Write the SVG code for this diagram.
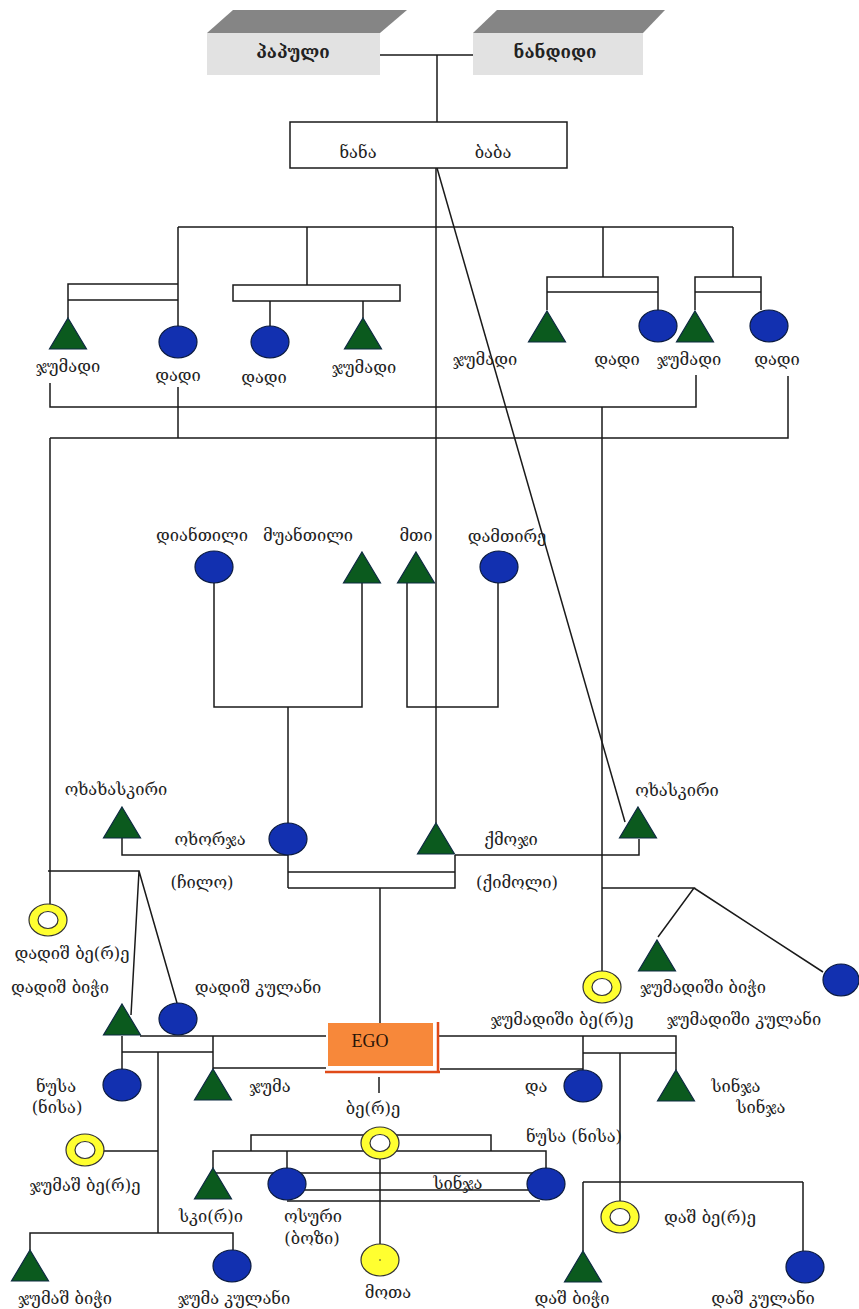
<svg xmlns="http://www.w3.org/2000/svg" width="859" height="1309" viewBox="0 0 859 1309">
<style>
.ln{stroke:#1a1a1a;stroke-width:1.5;fill:none}
.tri{fill:#0b5a1e;stroke:#0d2a40;stroke-width:1.2}
.cir{fill:#1230b0;stroke:#0a1a40;stroke-width:1.2}
.ring{fill:#ffff30;stroke:#333;stroke-width:1.2}
.hole{fill:#ffffff;stroke:#333;stroke-width:1.2}
.t{font-family:"DejaVu Serif","DejaVu Sans",serif;font-size:16.5px;fill:#222;text-anchor:middle}
.tb{font-family:"DejaVu Serif","DejaVu Sans",serif;font-size:17px;font-weight:bold;fill:#222;text-anchor:middle}
.top{fill:#858585}
.front{fill:#e2e2e2}
</style>
<defs>
<path id="trishape" d="M0,0 L18.5,31 L-18.5,31 Z"/>
</defs>
<rect width="859" height="1309" fill="#ffffff"/>
<g id="connectors">
<path class="ln" d="M380,55 H473 M437,55 V122"/>
<path class="ln" d="M436,168 V823"/>
<path class="ln" d="M437,168 L625,822"/>
<path class="ln" d="M178,227 H733 M178,227 V326"/>
<path class="ln" d="M68,318 V284 H178 M68,300 H178"/>
<path class="ln" d="M307,227 V285 M233,285 H400 V301 H233 Z M270,301 V326 M363,301 V318"/>
<path class="ln" d="M603,227 V277 M547,310 V277 H658 V310 M547,292 H658"/>
<path class="ln" d="M733,227 V277 M695,310 V277 H761 V310 M695,292 H761"/>
<path class="ln" d="M50,383 V407 H696 V375"/>
<path class="ln" d="M178,387 V438 M50,438 H788 V376 M50,438 V904"/>
<path class="ln" d="M602,407 V971 M602,888 H694 L658,937 M694,888 L823,972"/>
<path class="ln" d="M214,583 V707 H362 V583 M288,707 V823"/>
<path class="ln" d="M407,583 V707 H498 V583"/>
<path class="ln" d="M122,838 V855 H288 M288,855 V888 M288,872 H455 M288,888 H455 V855 M455,855 H639 V839"/>
<path class="ln" d="M380,888 V1023"/>
<path class="ln" d="M48,871 H139 L131,1015 M139,871 L177,1003"/>
<path class="ln" d="M140,1036 H326 M122,1036 V1069 M122,1052 H213 M213,1036 V1069 M213,1068 H326"/>
<path class="ln" d="M158,1052 V1233 M30,1250 V1233 H233 V1250 M103,1151 H158"/>
<path class="ln" d="M438,1036 H676 V1070 M583,1036 V1070 M583,1053 H676 M620,1053 V1201 M440,1069 H583"/>
<path class="ln" d="M583,1182 H803 M583,1182 V1251 M803,1182 V1251"/>
<path class="ln" d="M379,1077 V1093"/>
<path class="ln" d="M251,1151 V1135 H491 V1151 M213,1168 V1151 H546 V1168 M287,1151 V1168 M213,1173 H546 M305,1190 H528 M287,1201 H540"/>
<path class="ln" d="M380,1152 V1244"/>
</g>
<g id="papuli">
<polygon class="top" points="207,33 380,33 407,10 233,10"/>
<rect class="front" x="207" y="33" width="173" height="42"/>
<text class="tb" x="293" y="58">პაპული</text>
</g>
<g id="nandidi">
<polygon class="top" points="473,33 643,33 665,10 497,10"/>
<rect class="front" x="473" y="33" width="170" height="42"/>
<text class="tb" x="555" y="58">ნანდიდი</text>
</g>
<g id="nana-baba">
<rect x="290" y="122" width="277" height="46" fill="#fff" stroke="#1a1a1a" stroke-width="1.5"/>
<text class="t" x="358" y="158">ნანა</text>
<text class="t" x="493" y="158">ბაბა</text>
</g>
<g id="n-jumadi1"><use href="#trishape" class="tri" x="68" y="318"/><text class="t" x="68" y="372">ჯუმადი</text></g>
<g id="n-dadi1"><ellipse class="cir" cx="178" cy="342" rx="19" ry="16"/><text class="t" x="178" y="381">დადი</text></g>
<g id="n-dadi2"><ellipse class="cir" cx="270" cy="342" rx="19" ry="16"/><text class="t" x="264" y="383">დადი</text></g>
<g id="n-jumadi2"><use href="#trishape" class="tri" x="363" y="318"/><text class="t" x="364" y="373">ჯუმადი</text></g>
<g id="n-jumadi3"><use href="#trishape" class="tri" x="547" y="311"/><text class="t" x="485" y="365">ჯუმადი</text></g>
<g id="n-dadi3"><ellipse class="cir" cx="658" cy="326" rx="19" ry="16"/><text class="t" x="617" y="365">დადი</text></g>
<g id="n-jumadi4"><use href="#trishape" class="tri" x="695" y="311"/><text class="t" x="689" y="365">ჯუმადი</text></g>
<g id="n-dadi4"><ellipse class="cir" cx="769" cy="326" rx="19" ry="16"/><text class="t" x="777" y="365">დადი</text></g>
<g id="n-diantili"><ellipse class="cir" cx="214" cy="567" rx="19" ry="16"/><text class="t" x="202" y="541">დიანთილი</text></g>
<g id="n-muantili"><use href="#trishape" class="tri" x="362" y="552"/><text class="t" x="308" y="541">მუანთილი</text></g>
<g id="n-mti"><use href="#trishape" class="tri" x="416" y="552"/><text class="t" x="416" y="541">მთი</text></g>
<g id="n-damtire"><ellipse class="cir" cx="499" cy="567" rx="19" ry="16"/><text class="t" x="507" y="542">დამთირე</text></g>
<g id="n-oxaxaskiri"><use href="#trishape" class="tri" x="122" y="807"/><text class="t" x="116" y="795">ოხახასკირი</text></g>
<g id="n-oxorja"><ellipse class="cir" cx="288" cy="839" rx="19" ry="16"/><text class="t" x="210" y="845">ოხორჯა</text><text class="t" x="202" y="888">(ჩილო)</text></g>
<g id="n-kmoji"><use href="#trishape" class="tri" x="436" y="823"/><text class="t" x="511" y="845">ქმოჯი</text><text class="t" x="517" y="888">(ქიმოლი)</text></g>
<g id="n-oxaskiri"><use href="#trishape" class="tri" x="638" y="807"/><text class="t" x="677" y="796">ოხასკირი</text></g>
<g id="n-dadish-bere"><ellipse class="ring" cx="48" cy="920" rx="19" ry="16"/><ellipse class="hole" cx="48" cy="920" rx="10" ry="8.5"/><text class="t" x="72" y="959">დადიშ ბე(რ)ე</text></g>
<g id="n-dadish-bichi"><use href="#trishape" class="tri" x="122" y="1004"/><text class="t" x="60" y="993">დადიშ ბიჭი</text></g>
<g id="n-dadish-kulani"><ellipse class="cir" cx="178" cy="1019" rx="19" ry="16"/><text class="t" x="258" y="993">დადიშ კულანი</text></g>
<g id="n-jumadishi-bere"><ellipse class="ring" cx="602" cy="987" rx="19" ry="16"/><ellipse class="hole" cx="602" cy="987" rx="10" ry="8.5"/><text class="t" x="562" y="1025">ჯუმადიში ბე(რ)ე</text></g>
<g id="n-jumadishi-bichi"><use href="#trishape" class="tri" x="657" y="940"/><text class="t" x="703" y="993">ჯუმადიში ბიჭი</text></g>
<g id="n-jumadishi-kulani"><ellipse class="cir" cx="841" cy="980" rx="18" ry="16"/><text class="t" x="744" y="1025">ჯუმადიში კულანი</text></g>
<g id="n-ego">
<rect x="328" y="1023" width="105" height="43" fill="#f7883a"/>
<path d="M325,1072 H440 M438,1022 V1072" stroke="#e04a18" stroke-width="2.5" fill="none"/>
<text x="370" y="1047" font-family="Liberation Serif, serif" font-size="18" fill="#2a1408" text-anchor="middle">EGO</text>
</g>
<g id="n-nusa"><ellipse class="cir" cx="122" cy="1085" rx="19" ry="16"/><text class="t" x="56" y="1092">ნუსა</text><text class="t" x="57" y="1113">(ნისა)</text></g>
<g id="n-juma"><use href="#trishape" class="tri" x="213" y="1069"/><text class="t" x="270" y="1092">ჯუმა</text></g>
<g id="n-da"><ellipse class="cir" cx="583" cy="1086" rx="19" ry="16"/><text class="t" x="536" y="1092">და</text></g>
<g id="n-sinja1"><use href="#trishape" class="tri" x="676" y="1070"/><text class="t" x="736" y="1092">სინჯა</text><text class="t" x="761" y="1113">სინჯა</text></g>
<g id="n-nusa-label"><text class="t" x="574" y="1142">ნუსა (ნისა)</text></g>
<g id="n-jumash-bere"><ellipse class="ring" cx="85" cy="1150" rx="19" ry="16"/><ellipse class="hole" cx="85" cy="1150" rx="10" ry="8.5"/><text class="t" x="85" y="1191">ჯუმაშ ბე(რ)ე</text></g>
<g id="n-bere"><ellipse class="ring" cx="380" cy="1143" rx="19" ry="16"/><ellipse class="hole" cx="380" cy="1143" rx="10" ry="8.5"/><text class="t" x="373" y="1114">ბე(რ)ე</text></g>
<g id="n-skiri"><use href="#trishape" class="tri" x="213" y="1168"/><text class="t" x="211" y="1222">სკი(რ)ი</text></g>
<g id="n-osuri"><ellipse class="cir" cx="287" cy="1184" rx="19" ry="16"/><text class="t" x="313" y="1222">ოსური</text><text class="t" x="312" y="1244">(ბოზი)</text></g>
<g id="n-sinja2"><ellipse class="cir" cx="546" cy="1184" rx="19" ry="16"/><text class="t" x="458" y="1189">სინჯა</text></g>
<g id="n-dash-bere"><ellipse class="ring" cx="620" cy="1217" rx="19" ry="16"/><ellipse class="hole" cx="620" cy="1217" rx="10" ry="8.5"/><text class="t" x="710" y="1223">დაშ ბე(რ)ე</text></g>
<g id="n-mota"><ellipse class="ring" cx="380" cy="1260" rx="19" ry="16"/><circle cx="380" cy="1260" r="0.8" fill="#333"/><text class="t" x="388" y="1298">მოთა</text></g>
<g id="n-jumash-bichi"><use href="#trishape" class="tri" x="30" y="1250"/><text class="t" x="65" y="1304">ჯუმაშ ბიჭი</text></g>
<g id="n-juma-kulani"><ellipse class="cir" cx="232" cy="1266" rx="19" ry="16"/><text class="t" x="234" y="1304">ჯუმა კულანი</text></g>
<g id="n-dash-bichi"><use href="#trishape" class="tri" x="583" y="1251"/><text class="t" x="572" y="1304">დაშ ბიჭი</text></g>
<g id="n-dash-kulani"><ellipse class="cir" cx="805" cy="1267" rx="19" ry="16"/><text class="t" x="763" y="1304">დაშ კულანი</text></g>
</svg>
